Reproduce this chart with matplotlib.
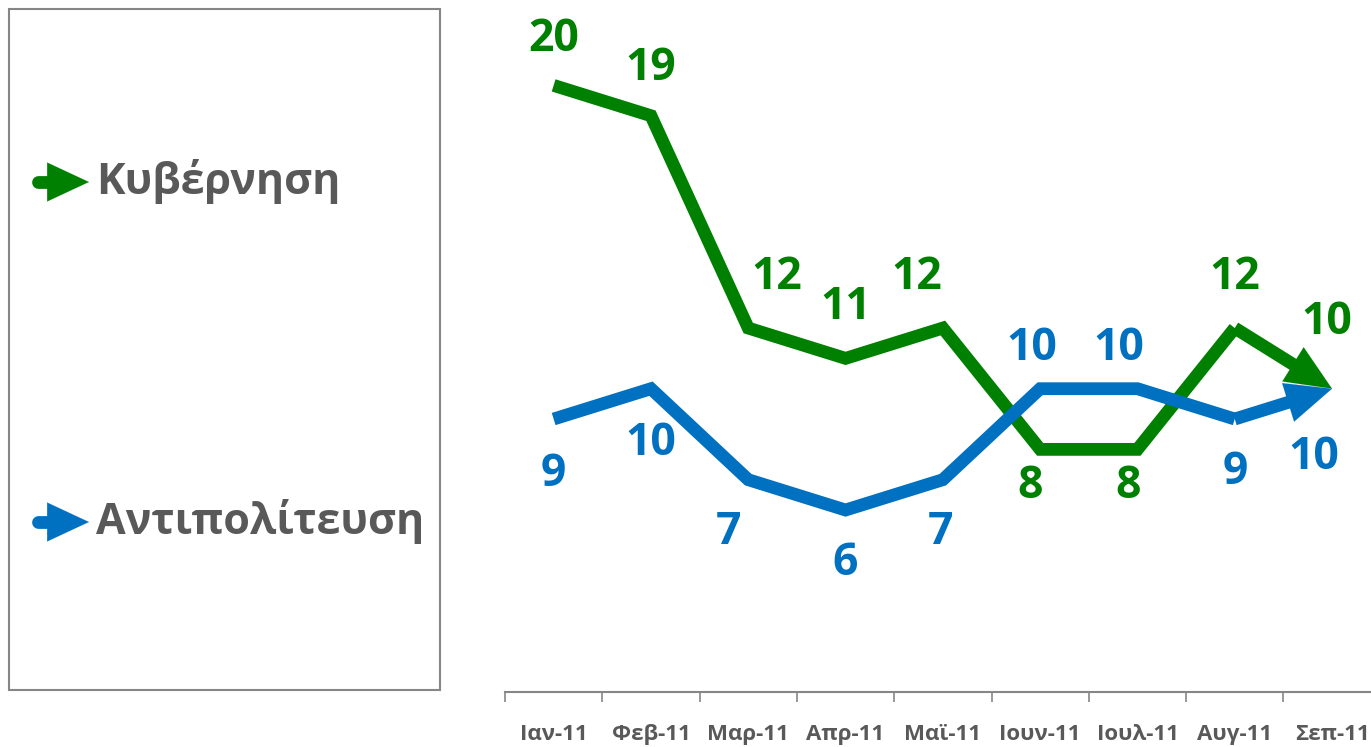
import numpy as np
import matplotlib.pyplot as plt
from matplotlib.patches import Rectangle, FancyArrowPatch

months = ['Ιαν-11', 'Φεβ-11', 'Μαρ-11', 'Απρ-11', 'Μαϊ-11',
          'Ιουν-11', 'Ιουλ-11', 'Αυγ-11', 'Σεπ-11']
series_names = ['Κυβέρνηση', 'Αντιπολίτευση']
gov = [20, 19, 12, 11, 12, 8, 8, 12, 10]
opp = [9, 10, 7, 6, 7, 10, 10, 9, 10]

# label offsets in pixels (dx, dy), dy positive = up
gov_off = [(0, 46), (0, 47), (28, 51), (0, 51), (-26, 51), (-10, -37), (-9, -37), (0, 51), (-5, 66)]
opp_off = [(0, -55), (0, -55), (-20, -53), (0, -53), (-2, -53), (-8, 40), (-19, 40), (0, -53), (-18, -69)]

green = '#008000'
blue = '#0070C0'
gray = '#595959'
axis_gray = '#868686'
font = ['Open Sans', 'DejaVu Sans']
plt.rcParams['font.family'] = font

W, H = 1371, 747
fig = plt.figure(figsize=(W / 100, H / 100), dpi=100)

# main plot area in pixel geometry
x0_px, y0_px = 505, 692
cat_w = 97.3
unit = 30.33
lw = 9.2
ax = fig.add_axes([x0_px / W, (H - y0_px) / H, 1 - x0_px / W, y0_px / H])
x = np.arange(len(months))
ax.set_xlim(-0.5, -0.5 + (W - x0_px) / cat_w)
ax.set_ylim(0, y0_px / unit)

for vals, col, offs in [(gov, green, gov_off), (opp, blue, opp_off)]:
    ax.plot(x[:-1], vals[:-1], color=col, lw=lw, solid_joinstyle='miter',
            solid_capstyle='butt', zorder=3)
    p0, p1 = (x[-2], vals[-2]), (x[-1], vals[-1])
    ax.add_patch(FancyArrowPatch(p0, p1, arrowstyle='-', lw=lw, color=col,
                                 shrinkA=0, shrinkB=28, capstyle='butt', zorder=3))
    ax.add_patch(FancyArrowPatch(p0, p1,
                                 arrowstyle='-|>,head_length=3.3,head_width=1.45',
                                 mutation_scale=10, lw=0.1, color=col,
                                 shrinkA=0, shrinkB=0, zorder=3))
    for xi, v, (dx, dy) in zip(x, vals, offs):
        ax.annotate(str(v), (xi, v), xytext=(dx, dy), textcoords='offset pixels',
                    ha='center', va='center', fontsize=32, fontweight='bold',
                    color=col, zorder=4)

for s in ['top', 'right', 'left']:
    ax.spines[s].set_visible(False)
ax.spines['bottom'].set_color(axis_gray)
ax.spines['bottom'].set_linewidth(1.5)
ax.set_yticks([])
ax.set_xticks(np.arange(-0.5, 8.5, 1.0))
ax.set_xticklabels([])
ax.tick_params(axis='x', length=7, width=1.2, color=axis_gray)
ax.set_xticks(x, minor=True)
ax.set_xticklabels(months, minor=True, fontsize=16, fontweight='bold', color=gray)
ax.tick_params(axis='x', which='minor', length=0, pad=23)

# legend box drawn in pixel coordinates
lax = fig.add_axes([0, 0, 1, 1], zorder=5)
lax.set_xlim(0, W)
lax.set_ylim(H, 0)
lax.axis('off')
lax.patch.set_alpha(0)
lax.add_patch(Rectangle((9, 9), 431, 681, fill=False, ec=axis_gray, lw=1.5))
for name, col, yy in zip(series_names, [green, blue], [182, 522]):
    lax.plot([38, 52], [yy, yy], color=col, lw=lw, solid_capstyle='round')
    lax.add_patch(FancyArrowPatch((48, yy), (89, yy),
                                  arrowstyle='-|>,head_length=3.0,head_width=1.4',
                                  mutation_scale=10, lw=0.1, color=col,
                                  shrinkA=0, shrinkB=0))
    lax.text(96, yy, name, ha='left', va='center', fontsize=31,
             fontweight='bold', color=gray)

fig.savefig('out.png', dpi=100)
